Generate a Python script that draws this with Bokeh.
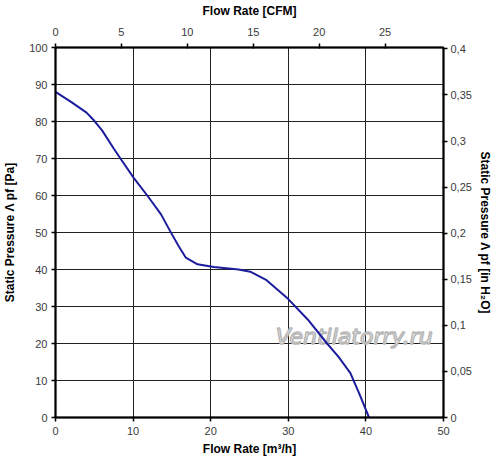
import math
from bokeh.plotting import figure
from bokeh.models import Range1d, LinearAxis, FixedTicker, CustomJSTickFormatter, Label
from bokeh.embed import file_html
from bokeh.resources import INLINE

flow_m3h = [0, 2, 4, 5, 6, 7.5, 8.5, 10.1, 11.9, 13.6, 14.9, 15.9, 16.8, 18.3, 20.4,
            23.6, 25.1, 27.2, 30, 32.5, 35, 36.5, 38, 39.2, 40.4]
pressure_pa = [88, 85.3, 82.4, 80.2, 77.6, 72.7, 69.6, 64.7, 59.8, 54.9, 49.9, 46.2, 43.2,
               41.4, 40.7, 40.0, 39.4, 37.1, 32.0, 26.5, 20.0, 16.3, 12.0, 6.2, 0]

x_ticks = [0, 10, 20, 30, 40, 50]
y_ticks = [0, 10, 20, 30, 40, 50, 60, 70, 80, 90, 100]
cfm_ticks = [0, 5, 10, 15, 20, 25]
inh2o_ticks = [0, 0.05, 0.1, 0.15, 0.2, 0.25, 0.3, 0.35, 0.4]

M3H_PER_CFM = 1.699
PA_PER_INH2O = 249.09

FONT = "Liberation Sans"
W, H = 494, 460
LEFT, TOP = 53, 46
FRAME_R, FRAME_B = 446, 417

p = figure(width=W, height=H, output_backend="svg", toolbar_location=None,
           x_range=Range1d(0, 50), y_range=Range1d(0, 100),
           min_border_left=LEFT, min_border_right=W - FRAME_R, min_border_top=TOP,
           min_border_bottom=H - FRAME_B)
p.extra_x_ranges = {"cfm": Range1d(0, 50 / M3H_PER_CFM)}
p.extra_y_ranges = {"inh2o": Range1d(0, 100 / PA_PER_INH2O)}

p.outline_line_color = "black"
p.outline_line_width = 1.5
p.background_fill_color = "white"
p.border_fill_color = "white"

def style_axis(ax, title, label_standoff, title_standoff):
    ax.axis_label = title
    ax.axis_label_text_font = FONT
    ax.axis_label_text_font_style = "bold"
    ax.axis_label_text_font_size = "12px"
    ax.axis_label_text_color = "black"
    ax.major_label_text_font = FONT
    ax.major_label_text_font_size = "11px"
    ax.major_label_text_color = "#3a3a3a"
    ax.axis_line_color = "black"
    ax.axis_line_width = 2
    ax.major_tick_line_color = "black"
    ax.major_tick_line_width = 1.5
    ax.major_tick_out = 4
    ax.major_tick_in = 1
    ax.minor_tick_line_color = None
    ax.major_label_standoff = label_standoff
    ax.axis_label_standoff = title_standoff

xa = p.xaxis[0]
xa.ticker = FixedTicker(ticks=x_ticks)
style_axis(xa, "Flow Rate [m³/h]", 5, 4)
ya = p.yaxis[0]
ya.ticker = FixedTicker(ticks=y_ticks)
style_axis(ya, "Static Pressure Λ pf [Pa]", 4, 9)

top = LinearAxis(x_range_name="cfm", ticker=FixedTicker(ticks=cfm_ticks))
style_axis(top, "Flow Rate [CFM]", 8, 7)
p.add_layout(top, "above")

comma = CustomJSTickFormatter(code="""
let s = tick.toFixed(2).replace(/0+$/, '').replace(/\\.$/, '');
return s.replace('.', ',');
""")
right = LinearAxis(y_range_name="inh2o", ticker=FixedTicker(ticks=inh2o_ticks), formatter=comma)
style_axis(right, "Static Pressure Λ pf [in H₂O]", 3, 3)
if "axis_label_orientation" in right.properties():
    right.axis_label_orientation = "vertical"
p.add_layout(right, "right")

p.xgrid.grid_line_color = "#222222"
p.xgrid.grid_line_width = 1
p.ygrid.grid_line_color = "#222222"
p.ygrid.grid_line_width = 1

p.add_layout(Label(x=38.5, y=21.9, text="Ventilatorry.ru", text_align="center",
                   text_baseline="middle", text_font="DejaVu Sans", text_font_style="italic",
                   text_font_size="22px", text_color="white",
                   text_outline_color="#b8b8b8", level="underlay"))

p.line(flow_m3h, pressure_pa, line_color="#1c1c9c", line_width=2)

open("out.html", "w").write(file_html(p, INLINE))
